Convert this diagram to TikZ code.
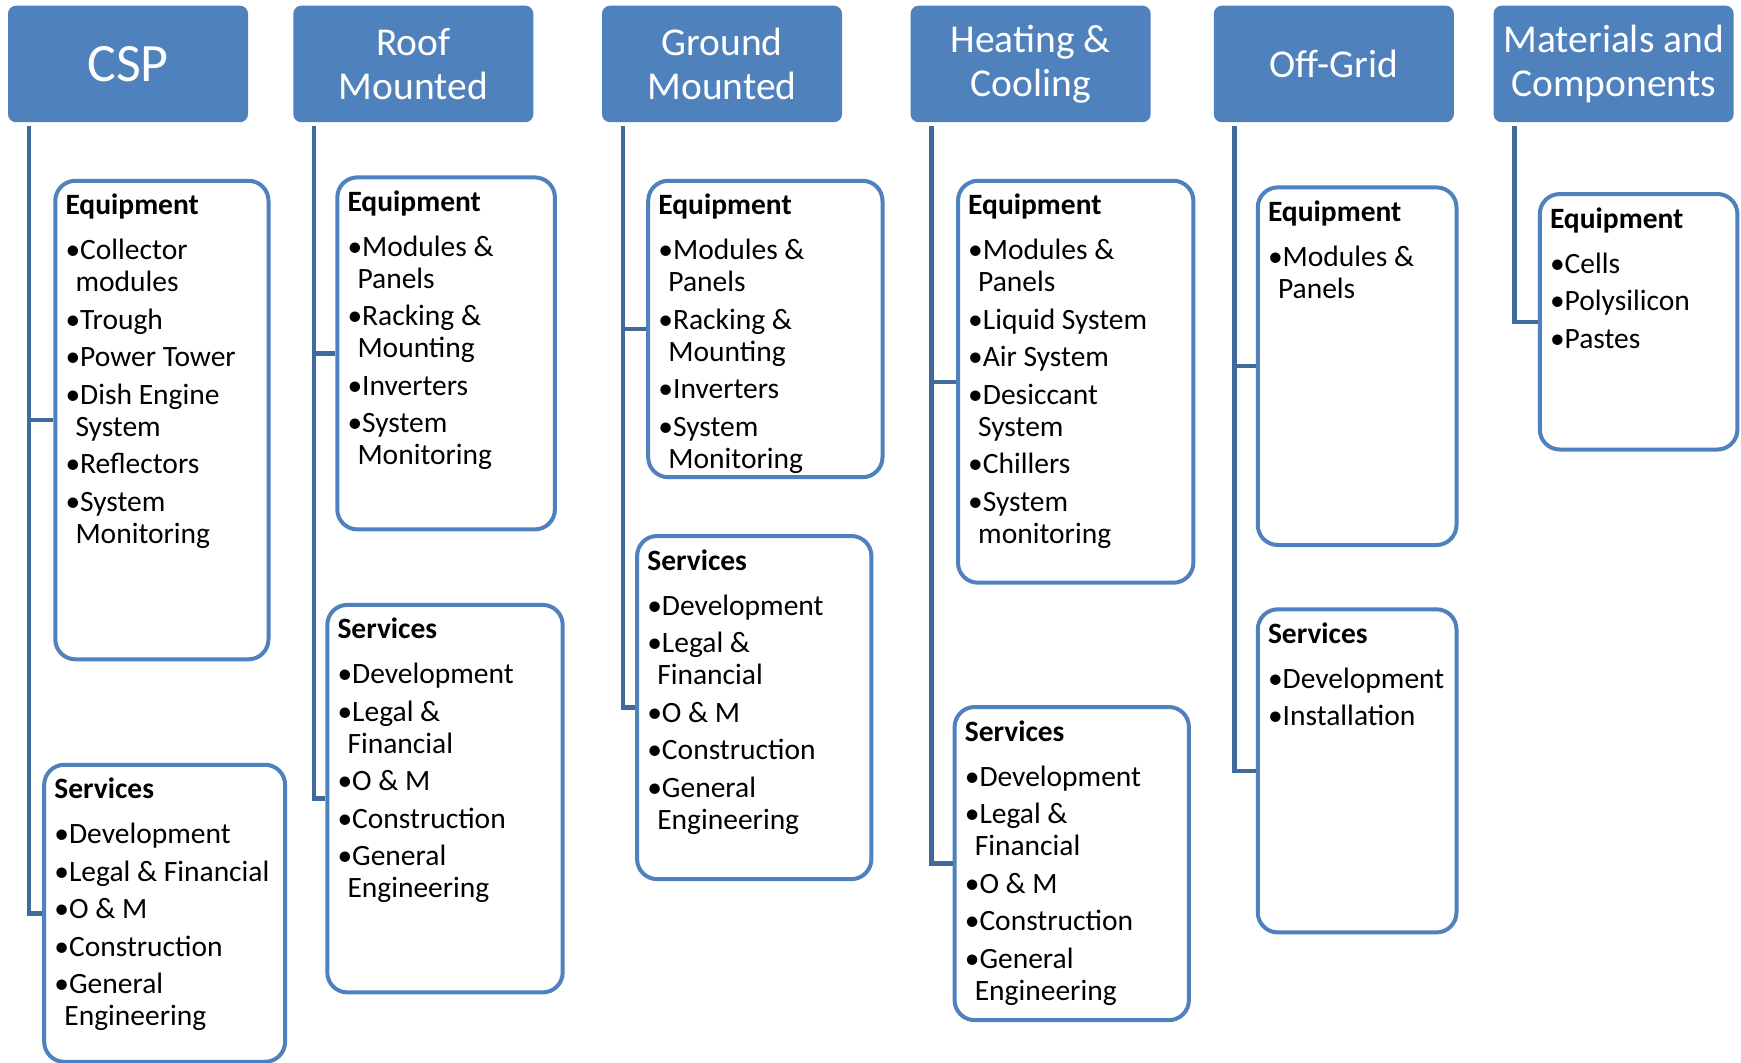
\documentclass[tikz,border=0pt]{standalone}
\usepackage{fontspec}
\setmainfont{Carlito}
\definecolor{hdr}{HTML}{4F81BD}
\definecolor{bd}{HTML}{4F81BD}
\definecolor{ln}{HTML}{40699C}
\newcommand\itm[1]{\vspace{5.5pt}\hangindent=10pt\hangafter=1\noindent\textbullet#1\par}
\newcommand\ttl[1]{\spaceskip=0pt\xspaceskip=0pt\noindent\textbf{#1}\par\vspace{7.5pt}}
\newcommand\cb[6]{%
  \node[cbox, minimum width=#4pt, minimum height=#5pt] (#1) at (#2,#3) {};
  \node[ctext] (#1t) at ([shift={(12pt,-36pt)}]#1.north west) {#6};
}
\tikzset{
  hbox/.style={anchor=north west, fill=hdr, rounded corners=8pt, text=white, align=center,
    font=\fontsize{39.5}{44}\selectfont, inner sep=0pt, minimum width=240pt, minimum height=116.5pt},
  cbox/.style={anchor=north west, draw=bd, line width=4pt, fill=white, rounded corners=20pt, inner sep=0pt},
  ctext/.style={anchor=base west, inner sep=0pt, text width=260pt, align=left,
    font=\fontsize{29.5}{32}\selectfont},
  conn/.style={draw=ln, line width=4.5pt}
}
\begin{document}
\begin{tikzpicture}[x=1pt,y=-1pt]
\useasboundingbox[fill=white] (0,0) rectangle (1741,1063);
% headers
\node[hbox, font=\fontsize{54}{60}\selectfont] (csp) at (7.8,5.5) {CSP};
\node[hbox] (roof) at (293.1,5.5) {Roof\\Mounted};
\node[hbox] (grd) at (601.8,5.5) {Ground\\Mounted};
\node[hbox] (heat) at (910.4,5.5) {Heating \&\\Cooling};
\node[hbox] (off) at (1213.6,5.5) {Off-Grid};
\node[hbox] (mat) at (1493.4,5.5) {Materials and\\Components};
% connector start points
\coordinate (cspc) at ([xshift=21pt,yshift=-3.5pt]csp.south west);
\coordinate (roofc) at ([xshift=21pt,yshift=-3.5pt]roof.south west);
\coordinate (grdc) at ([xshift=21pt,yshift=-3.5pt]grd.south west);
\coordinate (heatc) at ([xshift=21pt,yshift=-3.5pt]heat.south west);
\coordinate (offc) at ([xshift=21pt,yshift=-3.5pt]off.south west);
\coordinate (matc) at ([xshift=21pt,yshift=-3.5pt]mat.south west);
% boxes
\cb{cspeq}{53.3}{178.8}{213.2}{478.5}{\ttl{Equipment}\itm{Collector\newline modules}\itm{Trough}\itm{Power Tower}\itm{Dish Engine\newline System}\itm{Reflectors}\itm{System\newline Monitoring}}
\cb{cspsv}{42.2}{762.8}{240.9}{297}{\ttl{Services}\itm{Development}\itm{Legal \& Financial}\itm{O \& M}\itm{Construction}\itm{General\newline Engineering}}
\cb{roofeq}{335.3}{175.4}{217.6}{352}{\ttl{Equipment}\itm{Modules \&\newline Panels}\itm{Racking \&\newline Mounting}\itm{Inverters}\itm{System\newline Monitoring}}
\cb{roofsv}{325.3}{602.9}{235.4}{387.5}{\ttl{Services}\itm{Development}\itm{Legal \&\newline Financial}\itm{O \& M}\itm{Construction}\itm{General\newline Engineering}}
\cb{grdeq}{646.2}{178.8}{234.3}{296.4}{\ttl{Equipment}\itm{Modules \&\newline Panels}\itm{Racking \&\newline Mounting}\itm{Inverters}\itm{System\newline Monitoring}}
\cb{grdsv}{635.1}{534}{234.3}{343.1}{\ttl{Services}\itm{Development}\itm{Legal \&\newline Financial}\itm{O \& M}\itm{Construction}\itm{General\newline Engineering}}
\cb{heateq}{956}{178.8}{235.4}{401.9}{\ttl{Equipment}\itm{Modules \&\newline Panels}\itm{Liquid System}\itm{Air System}\itm{Desiccant\newline System}\itm{Chillers}\itm{System\newline monitoring}}
\cb{heatsv}{952.6}{705}{234.3}{313.1}{\ttl{Services}\itm{Development}\itm{Legal \&\newline Financial}\itm{O \& M}\itm{Construction}\itm{General\newline Engineering}}
\cb{offeq}{1255.8}{185.4}{198.7}{357.6}{\ttl{Equipment}\itm{Modules \&\newline Panels}}
\cb{offsv}{1255.8}{607.3}{198.7}{323.1}{\ttl{Services}\itm{Development}\itm{Installation}}
\cb{mateq}{1537.8}{192}{197.6}{255.5}{\ttl{Equipment}\itm{Cells}\itm{Polysilicon}\itm{Pastes}}
% connectors
\draw[conn] (cspc) |- (cspeq.west);
\draw[conn] (cspc) |- (cspsv.west);
\draw[conn] (roofc) |- (roofeq.west);
\draw[conn] (roofc) |- (roofsv.west);
\draw[conn] (grdc) |- (grdeq.west);
\draw[conn] (grdc) |- (grdsv.west);
\draw[conn] (heatc) |- (heateq.west);
\draw[conn] (heatc) |- (heatsv.west);
\draw[conn] (offc) |- (offeq.west);
\draw[conn] (offc) |- (offsv.west);
\draw[conn] (matc) |- (mateq.west);
\end{tikzpicture}
\end{document}
